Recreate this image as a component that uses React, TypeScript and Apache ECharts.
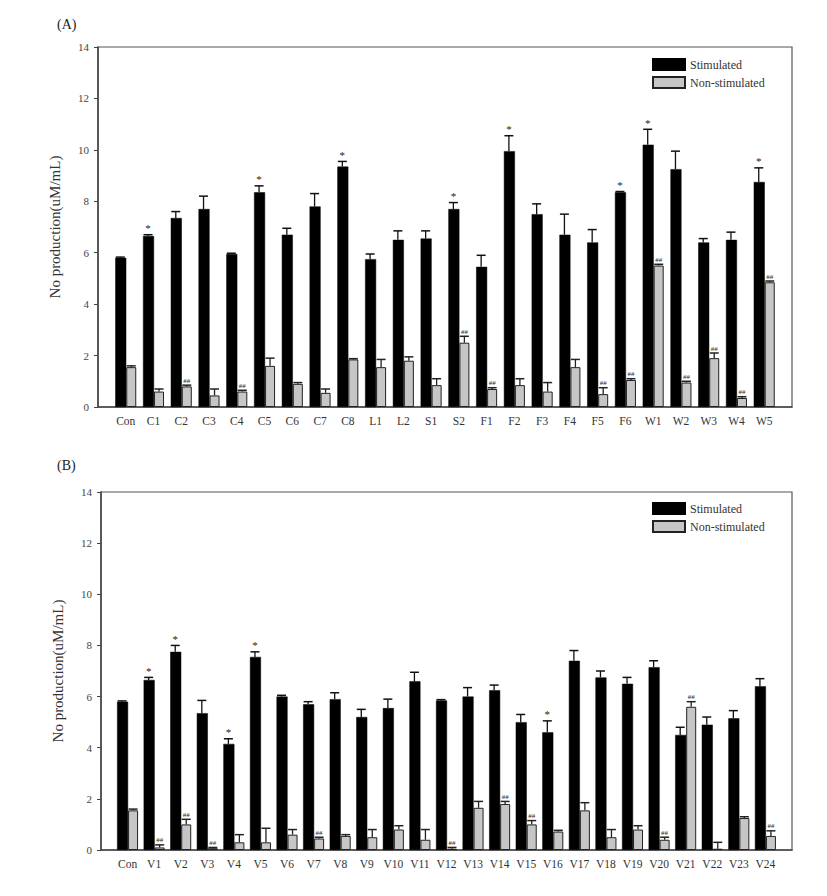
import React, { useEffect, useRef } from "react";
import * as echarts from "echarts";

const catA = ["Con","C1","C2","C3","C4","C5","C6","C7","C8","L1","L2","S1","S2","F1","F2","F3","F4","F5","F6","W1","W2","W3","W4","W5"];
const stimA = [5.8,6.65,7.35,7.7,5.95,8.35,6.7,7.8,9.35,5.75,6.5,6.55,7.7,5.45,9.95,7.5,6.7,6.4,8.35,10.2,9.25,6.4,6.5,8.75];
const stimErrA = [0.03,0.05,0.25,0.5,0.03,0.25,0.25,0.5,0.2,0.2,0.35,0.3,0.25,0.45,0.6,0.4,0.8,0.5,0.03,0.6,0.7,0.15,0.3,0.55];
const nonA = [1.55,0.6,0.8,0.45,0.6,1.6,0.9,0.55,1.85,1.55,1.8,0.85,2.5,0.7,0.85,0.6,1.55,0.5,1.05,5.5,0.95,1.9,0.35,4.85];
const nonErrA = [0.05,0.1,0.05,0.25,0.05,0.3,0.05,0.15,0.03,0.3,0.15,0.25,0.25,0.05,0.25,0.35,0.3,0.25,0.05,0.05,0.05,0.2,0.05,0.05];
const starA = ["C1","C5","C8","S2","F2","F6","W1","W5"];
const hashA = ["C2","C4","S2","F1","F5","F6","W1","W2","W3","W4","W5"];

const catB = ["Con","V1","V2","V3","V4","V5","V6","V7","V8","V9","V10","V11","V12","V13","V14","V15","V16","V17","V18","V19","V20","V21","V22","V23","V24"];
const stimB = [5.8,6.65,7.75,5.35,4.15,7.55,6.0,5.7,5.9,5.2,5.55,6.6,5.85,6.0,6.25,5.0,4.6,7.4,6.75,6.5,7.15,4.5,4.9,5.15,6.4];
const stimErrB = [0.03,0.1,0.25,0.5,0.2,0.2,0.05,0.1,0.25,0.3,0.35,0.35,0.03,0.35,0.2,0.3,0.45,0.4,0.25,0.25,0.25,0.3,0.3,0.3,0.3];
const nonB = [1.55,0.1,1.0,0.07,0.3,0.3,0.6,0.45,0.55,0.5,0.8,0.4,0.05,1.65,1.8,1.0,0.72,1.55,0.5,0.8,0.4,5.6,0.05,1.25,0.55];
const nonErrB = [0.05,0.1,0.2,0.03,0.3,0.55,0.2,0.05,0.05,0.3,0.15,0.4,0.05,0.25,0.1,0.15,0.05,0.3,0.3,0.15,0.1,0.2,0.25,0.05,0.2];
const starB = ["V1","V2","V4","V5","V16"];
const hashB = ["V1","V2","V3","V7","V12","V14","V15","V20","V21","V24"];

const yTicks = [0, 2, 4, 6, 8, 10, 12, 14];

const FONT = "Liberation Serif";
const BLACK_W = 11;
const GRAY_W = 10;

function pad(arr: any[]) {
  return [null, ...arr, null];
}

function errSeries(cats: string[], vals: number[], errs: number[], marks: string[], offset: number, markText: string, markSize: number, axisIndex: number, color: string) {
  return {
    type: "custom",
    xAxisIndex: axisIndex,
    yAxisIndex: axisIndex,
    z: 5,
    clip: false,
    silent: true,
    encode: { x: 0, y: 1 },
    data: vals.map((v, i) => [i + 1, v, errs[i]]),
    renderItem: (params: any, api: any) => {
      const idx = api.value(0);
      const v = api.value(1);
      const e = api.value(2);
      const p0 = api.coord([idx, v]);
      const p1 = api.coord([idx, v + e]);
      const x = p0[0] + offset;
      const children: any[] = [
        { type: "line", shape: { x1: x, y1: p0[1], x2: x, y2: p1[1] }, style: { stroke: color, lineWidth: 1.3 } },
        { type: "line", shape: { x1: x - 4.5, y1: p1[1], x2: x + 4.5, y2: p1[1] }, style: { stroke: color, lineWidth: 1.5 } },
      ];
      const name = cats[idx - 1];
      if (marks.indexOf(name) >= 0) {
        children.push({
          type: "text",
          style: {
            text: markText,
            x: x,
            y: p1[1] - 1,
            align: "center",
            verticalAlign: "bottom",
            fontSize: markSize,
            fontFamily: FONT,
            fill: "#222",
          },
        });
      }
      return { type: "group", children };
    },
  };
}

export default function App() {
  const ref = useRef<HTMLDivElement>(null);
  useEffect(() => {
    if (!ref.current) return;
    const chart = echarts.init(ref.current, null, { renderer: "svg" });
    const gridBase = { show: true, borderColor: "#555", borderWidth: 1.2, backgroundColor: "transparent" };
    const xAxisBase = (cats: string[], gi: number) => ({
      type: "category",
      gridIndex: gi,
      data: pad(cats).map((c) => (c === null ? "" : c)),
      boundaryGap: false,
      axisLine: { show: true, lineStyle: { color: "#444", width: 1.5 } },
      axisTick: { show: false },
      axisLabel: { interval: 0, fontSize: 11.5, fontFamily: FONT, color: "#333", margin: 8 },
      splitLine: { show: false },
    });
    const yAxisBase = (gi: number) => ({
      type: "value",
      gridIndex: gi,
      min: yTicks[0],
      max: yTicks[yTicks.length - 1],
      interval: yTicks[1] - yTicks[0],
      name: "No production(uM/mL)",
      nameLocation: "middle",
      nameGap: 36,
      nameTextStyle: { fontSize: 15, fontFamily: FONT, color: "#333" },
      axisLine: { show: true, lineStyle: { color: "#444", width: 1.5 } },
      axisTick: { show: true, length: 4, lineStyle: { color: "#444" } },
      axisLabel: { fontSize: 11, fontFamily: FONT, color: "#444", margin: 9 },
      splitLine: { show: false },
    });
    const blackStyle = { color: "#000", borderColor: "#000", borderWidth: 0.5 };
    const grayStyle = { color: "#c6c6c6", borderColor: "#222", borderWidth: 1 };
    const legendBase = {
      orient: "vertical",
      left: 652,
      padding: 0,
      icon: "rect",
      itemWidth: 32,
      itemHeight: 11,
      itemGap: 5,
      textStyle: { fontSize: 12, fontFamily: FONT, color: "#333" },
      data: ["Stimulated", "Non-stimulated"],
      selectedMode: false,
    };
    chart.setOption({
      animation: false,
      textStyle: { fontFamily: FONT },
      title: [
        { text: "(A)", left: 52, top: 12, textStyle: { fontSize: 14, fontWeight: "normal", fontFamily: FONT, color: "#222" } },
        { text: "(B)", left: 52, top: 453, textStyle: { fontSize: 14, fontWeight: "normal", fontFamily: FONT, color: "#222" } },
      ],
      legend: [
        { ...legendBase, top: 58 },
        { ...legendBase, top: 502 },
      ],
      grid: [
        { ...gridBase, left: 98, top: 47, width: 694, height: 360 },
        { ...gridBase, left: 101, top: 492, width: 691, height: 358 },
      ],
      xAxis: [xAxisBase(catA, 0), xAxisBase(catB, 1)],
      yAxis: [yAxisBase(0), yAxisBase(1)],
      series: [
        { name: "Stimulated", type: "bar", xAxisIndex: 0, yAxisIndex: 0, data: pad(stimA), barWidth: BLACK_W, barGap: "0%", itemStyle: blackStyle },
        { name: "Non-stimulated", type: "bar", xAxisIndex: 0, yAxisIndex: 0, data: pad(nonA), barWidth: GRAY_W, barGap: "0%", itemStyle: grayStyle },
        { name: "Stimulated", type: "bar", xAxisIndex: 1, yAxisIndex: 1, data: pad(stimB), barWidth: BLACK_W, barGap: "0%", itemStyle: blackStyle },
        { name: "Non-stimulated", type: "bar", xAxisIndex: 1, yAxisIndex: 1, data: pad(nonB), barWidth: GRAY_W, barGap: "0%", itemStyle: grayStyle },
        errSeries(catA, stimA, stimErrA, starA, -GRAY_W / 2 - 0.5, "*", 11, 0, "#111"),
        errSeries(catA, nonA, nonErrA, hashA, BLACK_W / 2, "##", 7, 0, "#222"),
        errSeries(catB, stimB, stimErrB, starB, -GRAY_W / 2 - 0.5, "*", 11, 1, "#111"),
        errSeries(catB, nonB, nonErrB, hashB, BLACK_W / 2, "##", 7, 1, "#222"),
      ],
    });
    return () => chart.dispose();
  }, []);
  return <div ref={ref} style={{ position: "absolute", left: 0, top: 0, width: 827, height: 896 }} />;
}
